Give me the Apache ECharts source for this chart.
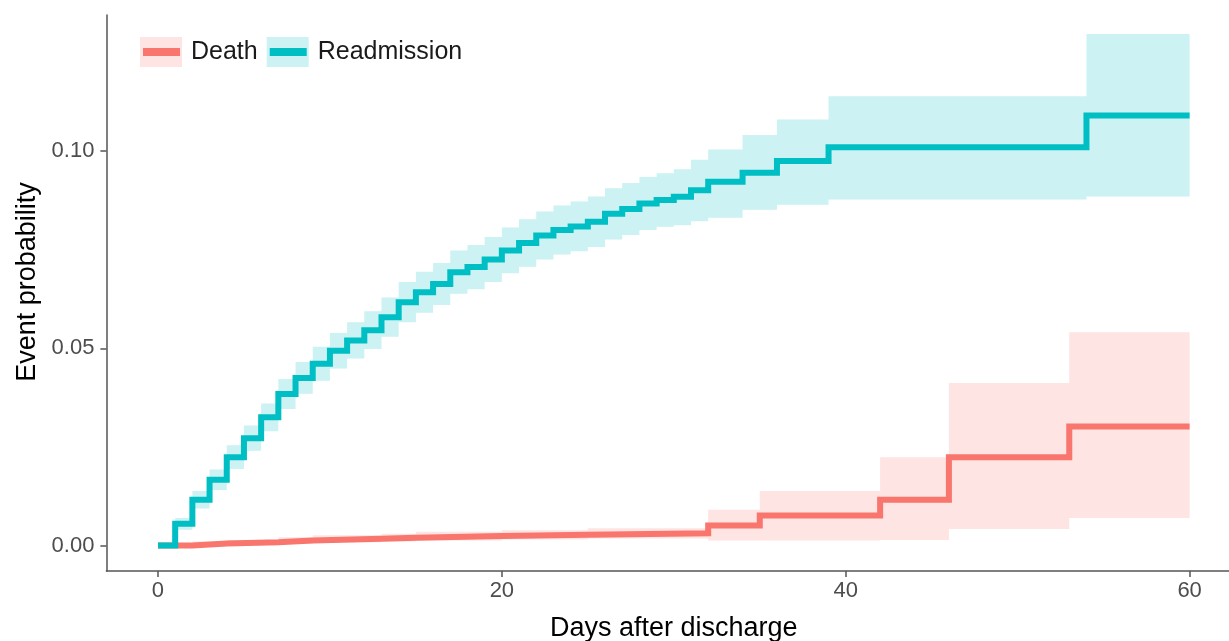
<!DOCTYPE html>
<html>
<head>
<meta charset="utf-8">
<script src="https://cdn.jsdelivr.net/npm/echarts@6/dist/echarts.min.js"></script>
<style>
  html, body { margin: 0; padding: 0; background: #fff; }
  #chart { width: 1229px; height: 641px; }
</style>
</head>
<body>
<div id="chart"></div>
<script>
// cumulative incidence
const readDays = [0, 1, 2, 3, 4, 5, 6, 7, 8, 9, 10, 11, 12, 13, 14, 15, 16, 17, 18, 19, 20,
  21, 22, 23, 24, 25, 26, 27, 28, 29, 30, 31, 32, 34, 36, 39, 54, 60]
const readEst = [0, 0.0055, 0.0116, 0.0167, 0.0224, 0.0272, 0.0325, 0.0384, 0.0425, 0.0461, 0.0494,
  0.0520, 0.0546, 0.0579, 0.0617, 0.0642, 0.0663, 0.0693, 0.0706, 0.0725, 0.0748,
  0.0767, 0.0786, 0.0800, 0.0809, 0.0821, 0.0841, 0.0853, 0.0867, 0.0876, 0.0884,
  0.0901, 0.0922, 0.0945, 0.0975, 0.1010, 0.1090, 0.1090]
const readLower = [0, 0.0040, 0.0094, 0.0141, 0.0194, 0.0240, 0.0290, 0.0346, 0.0385, 0.0418, 0.0449,
  0.0474, 0.0498, 0.0529, 0.0566, 0.0590, 0.0610, 0.0638, 0.0650, 0.0668, 0.0690,
  0.0707, 0.0725, 0.0738, 0.0746, 0.0757, 0.0776, 0.0787, 0.0800, 0.0808, 0.0812,
  0.0822, 0.0831, 0.0851, 0.0864, 0.0877, 0.0885, 0.0885]
const readUpper = [0, 0.0070, 0.0138, 0.0193, 0.0254, 0.0304, 0.0360, 0.0422, 0.0465, 0.0504, 0.0539,
  0.0566, 0.0594, 0.0629, 0.0668, 0.0694, 0.0716, 0.0748, 0.0762, 0.0782, 0.0806,
  0.0827, 0.0847, 0.0862, 0.0872, 0.0885, 0.0906, 0.0919, 0.0934, 0.0944, 0.0954,
  0.0978, 0.1004, 0.1041, 0.1080, 0.1139, 0.1297, 0.1297]

const deathDays = [0, 2, 4, 7, 9, 13, 15, 20, 25, 32, 35, 42, 46, 53, 60]
const deathEst = [0, 0.0005, 0.0008, 0.0013, 0.0017, 0.0020, 0.0024, 0.0027, 0.0031, 0.0051, 0.0076, 0.0116, 0.0224, 0.0302, 0.0302]
const deathLower = [0, 0.0001, 0.0002, 0.0005, 0.0008, 0.0010, 0.0013, 0.0015, 0.0018, 0.0013, 0.0013, 0.0014, 0.0042, 0.0070, 0.0070]
const deathUpper = [0, 0.0010, 0.0014, 0.0021, 0.0026, 0.0030, 0.0035, 0.0039, 0.0044, 0.0091, 0.0138, 0.0224, 0.0412, 0.0541, 0.0541]

const xTicks = [0, 20, 40, 60]
const yTicks = [0, 0.05, 0.10]
const groups = ['Death', 'Readmission']

const RED = '#F8766D'
const TEAL = '#00BFC4'
const RED_BAND = '#FEE4E2'
const TEAL_BAND = '#CCF2F3'
const FONT = '"Liberation Sans", Arial, sans-serif'

const pairs = (xs, ys) => xs.map((x, i) => [x, ys[i]])

// confidence ribbon as one stepped polygon, built with the axis scales
function band(name, xs, lo, hi, color) {
  return {
    name: name, type: 'custom', silent: true, z: 1, clip: true,
    data: [[xs[0], lo[0]]],
    renderItem: (params, api) => {
      const top = []
      const bottom = []
      xs.forEach((x, i) => {
        const next = i < xs.length - 1 ? xs[i + 1] : x
        top.push(api.coord([x, hi[i]]), api.coord([next, hi[i]]))
        bottom.push(api.coord([x, lo[i]]), api.coord([next, lo[i]]))
      })
      return {
        type: 'polygon',
        shape: { points: top.concat(bottom.reverse()) },
        style: { fill: color }
      }
    }
  }
}

function stepLine(name, xs, ys, color) {
  return {
    name: name, type: 'line', step: 'end', data: pairs(xs, ys),
    symbol: 'none', color: color,
    lineStyle: { color: color, width: 6, cap: 'butt', join: 'miter' }, z: 3
  }
}

const legendBase = {
  orient: 'horizontal', left: 140, top: 37, padding: 0,
  itemWidth: 42, itemHeight: 30, itemGap: 9,
  selectedMode: false,
  textStyle: { fontFamily: FONT, fontSize: 25, color: '#1a1a1a', padding: [0, 0, 0, 4] }
}
// bar in the middle of the key box; the two specks keep the box size
const barIcon = 'path://M0,0L0.01,0L0.01,0.01ZM41.99,29.99L42,29.99L42,30ZM3,11L40,11L40,19L3,19Z'

const chart = echarts.init(document.getElementById('chart'))
chart.setOption({
  animation: false,
  backgroundColor: '#fff',
  legend: [
    Object.assign({}, legendBase, {
      icon: 'rect',
      data: [
        { name: groups[0], itemStyle: { color: RED_BAND, borderWidth: 0 } },
        { name: groups[1], itemStyle: { color: TEAL_BAND, borderWidth: 0 } }
      ]
    }),
    Object.assign({}, legendBase, {
      icon: barIcon,
      textStyle: Object.assign({}, legendBase.textStyle, { color: 'rgba(0,0,0,0)' }),
      data: [
        { name: groups[0], itemStyle: { color: RED, borderWidth: 0 } },
        { name: groups[1], itemStyle: { color: TEAL, borderWidth: 0 } }
      ]
    })
  ],
  grid: {
    left: 106.4, top: 15, width: 1134.8, height: 556,
    containLabel: false, outerBoundsMode: 'none'
  },
  xAxis: {
    type: 'value', min: -3, max: 63,
    name: 'Days after discharge', nameLocation: 'middle', nameGap: 44,
    nameTextStyle: { fontFamily: FONT, fontSize: 27, color: '#000' },
    axisLine: { onZero: false, lineStyle: { color: '#555', width: 1.5 } },
    axisTick: { customValues: xTicks, length: 6, lineStyle: { color: '#555', width: 1.5 } },
    axisLabel: {
      customValues: xTicks, margin: 9,
      fontFamily: FONT, fontSize: 22, color: '#4D4D4D'
    },
    splitLine: { show: false }
  },
  yAxis: {
    type: 'value', min: -0.00646, max: 0.1345,
    name: 'Event probability', nameLocation: 'middle', nameGap: 62, nameRotate: 90,
    nameTextStyle: { fontFamily: FONT, fontSize: 27, color: '#000', padding: [0, 0, 0, 22] },
    axisLine: { show: true, onZero: false, lineStyle: { color: '#555', width: 1.5 } },
    axisTick: { show: true, customValues: yTicks, length: 6, lineStyle: { color: '#555', width: 1.5 } },
    axisLabel: {
      customValues: yTicks, margin: 12,
      fontFamily: FONT, fontSize: 22, color: '#4D4D4D',
      formatter: v => v.toFixed(2)
    },
    splitLine: { show: false }
  },
  series: [
    band('Death band', deathDays, deathLower, deathUpper, RED_BAND),
    band('Readmission band', readDays, readLower, readUpper, TEAL_BAND),
    stepLine(groups[0], deathDays, deathEst, RED),
    stepLine(groups[1], readDays, readEst, TEAL)
  ]
})
</script>
</body>
</html>
